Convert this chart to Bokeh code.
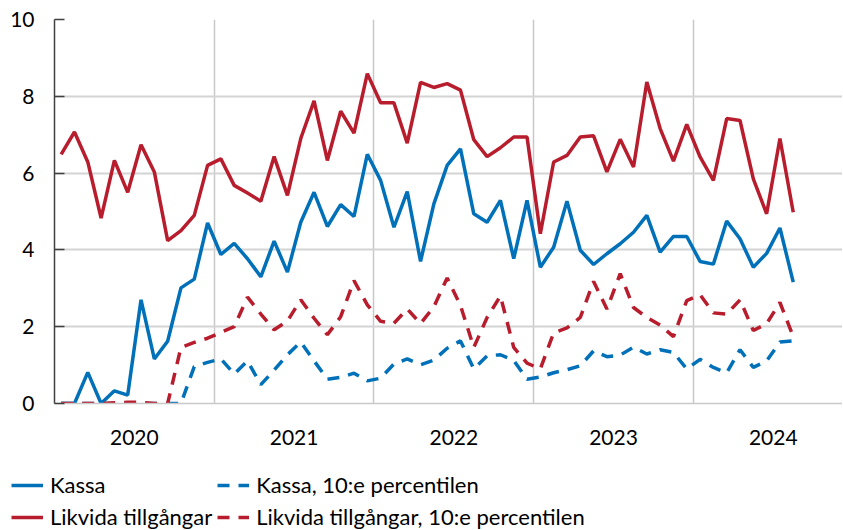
from bokeh.plotting import figure
from bokeh.models import Range1d, FixedTicker, Legend, LegendItem
from bokeh.layouts import column, row
from bokeh.embed import file_html
from bokeh.resources import INLINE
import pandas as pd

# Monthly observations, Jan 2020 - Aug 2024
months = pd.period_range("2020-01", "2024-08", freq="M")

kassa = [0.00, 0.00, 0.81, 0.00, 0.33, 0.22, 2.70, 1.16, 1.62, 3.01, 3.24, 4.70,
         3.88, 4.17, 3.77, 3.30, 4.23, 3.42, 4.72, 5.50, 4.61, 5.18, 4.87, 6.49,
         5.81, 4.59, 5.52, 3.70, 5.20, 6.20, 6.63, 4.94, 4.72, 5.29, 3.77, 5.29,
         3.55, 4.07, 5.27, 3.99, 3.62, 3.90, 4.16, 4.46, 4.90, 3.94, 4.35, 4.35,
         3.70, 3.63, 4.75, 4.29, 3.55, 3.91, 4.57, 3.16]

kassa_p10 = [0.00, 0.00, 0.00, 0.00, 0.00, 0.00, 0.00, 0.00, 0.00, 0.00, 0.96, 1.07,
             1.16, 0.77, 1.11, 0.49, 0.87, 1.27, 1.60, 1.11, 0.63, 0.68, 0.79, 0.59,
             0.66, 1.03, 1.16, 1.01, 1.13, 1.44, 1.63, 0.90, 1.24, 1.27, 1.12, 0.63,
             0.69, 0.80, 0.88, 0.98, 1.37, 1.22, 1.26, 1.47, 1.29, 1.40, 1.33, 0.90,
             1.15, 0.94, 0.80, 1.40, 0.94, 1.11, 1.60, 1.63]

likvida = [6.49, 7.07, 6.29, 4.83, 6.33, 5.50, 6.74, 6.03, 4.24, 4.50, 4.90, 6.20,
           6.37, 5.68, 5.48, 5.27, 6.43, 5.42, 6.90, 7.88, 6.33, 7.61, 7.04, 8.59,
           7.83, 7.83, 6.78, 8.36, 8.23, 8.33, 8.16, 6.87, 6.43, 6.66, 6.94, 6.94,
           4.42, 6.29, 6.46, 6.94, 6.97, 6.03, 6.88, 6.16, 8.37, 7.16, 6.31, 7.27,
           6.42, 5.81, 7.42, 7.37, 5.85, 4.94, 6.90, 4.98]

likvida_p10 = [0.00, 0.00, 0.00, 0.00, 0.02, 0.03, 0.03, 0.00, 0.00, 1.46, 1.59, 1.70,
               1.85, 2.00, 2.77, 2.33, 1.92, 2.15, 2.70, 2.22, 1.79, 2.26, 3.20, 2.57,
               2.14, 2.09, 2.46, 2.08, 2.52, 3.27, 2.55, 1.46, 2.24, 2.80, 1.46, 1.05,
               0.90, 1.84, 1.97, 2.24, 3.18, 2.46, 3.38, 2.50, 2.24, 2.04, 1.74, 2.68,
               2.83, 2.36, 2.33, 2.70, 1.90, 2.08, 2.63, 1.74]

years = ["2020", "2021", "2022", "2023", "2024"]
y_ticks = [0, 2, 4, 6, 8, 10]
series_labels = ["Kassa", "Kassa, 10:e percentilen",
                 "Likvida tillgångar", "Likvida tillgångar, 10:e percentilen"]

# x position: months since Jan 2020, plotted mid-month
x = [(m.year - 2020) * 12 + (m.month - 1) + 0.5 for m in months]

BLUE = "#0071b9"
RED = "#b81d2d"
FONT = "Lato"
DASH = "12 9"
LW = 3.5

p = figure(frame_width=788, frame_height=384, output_backend="svg",
           toolbar_location=None, x_range=Range1d(0, 59.2), y_range=Range1d(0, 10),
           min_border_left=54, min_border_top=19, min_border_right=0, min_border_bottom=60)
p.outline_line_color = None
p.background_fill_color = "white"

p.line(x, kassa, line_color=BLUE, line_width=LW)
p.line(x, kassa_p10, line_color=BLUE, line_width=LW, line_dash=DASH)
p.line(x, likvida, line_color=RED, line_width=LW)
p.line(x, likvida_p10, line_color=RED, line_width=LW, line_dash=DASH)

# y axis
p.yaxis.ticker = FixedTicker(ticks=y_ticks)
p.yaxis.axis_line_color = "#404040"
p.yaxis.axis_line_width = 1.5
p.yaxis.major_tick_in = 10
p.yaxis.major_tick_out = 0
p.yaxis.major_tick_line_color = "#404040"
p.yaxis.major_tick_line_width = 1.5
p.yaxis.minor_tick_line_color = None
p.yaxis.major_label_standoff = 20
p.yaxis.major_label_text_font = FONT
p.yaxis.major_label_text_font_size = "21px"
p.yaxis.major_label_text_color = "black"

# x axis: year labels centred in each year, grid lines at year boundaries
year_centres = [6 + 12 * k for k in range(len(years))]
p.xaxis.ticker = FixedTicker(ticks=year_centres)
p.xaxis.major_label_overrides = {c: y for c, y in zip(year_centres, years)}
p.xaxis.major_tick_line_color = None
p.xaxis.minor_tick_line_color = None
p.xaxis.axis_line_color = "#c8c8c8"
p.xaxis.axis_line_width = 1.5
p.xaxis.major_label_standoff = 20
p.xaxis.major_label_text_font = FONT
p.xaxis.major_label_text_font_size = "21px"
p.xaxis.major_label_text_color = "black"

p.xgrid.ticker = FixedTicker(ticks=[12, 24, 36, 48])
p.xgrid.grid_line_color = "#c8c8c8"
p.xgrid.grid_line_width = 1.5
p.ygrid.ticker = FixedTicker(ticks=[2, 4, 6, 8, 10])
p.ygrid.grid_line_color = "#d4d4d4"
p.ygrid.grid_line_width = 1.8

# Legend strip below the chart (same series, drawn out of view; only the legend shows)
q = figure(width=842, height=67, output_backend="svg", toolbar_location=None,
           x_axis_location=None, y_axis_location=None,
           x_range=Range1d(0, 1), y_range=Range1d(100, 101),
           min_border_left=0, min_border_right=0, min_border_top=0, min_border_bottom=0)
q.grid.visible = False
q.outline_line_color = None
l1 = q.line(x, kassa, line_color=BLUE, line_width=LW)
l2 = q.line(x, kassa_p10, line_color=BLUE, line_width=LW, line_dash=DASH)
l3 = q.line(x, likvida, line_color=RED, line_width=LW)
l4 = q.line(x, likvida_p10, line_color=RED, line_width=LW, line_dash=DASH)

legend = Legend(items=[
    LegendItem(label=series_labels[0], renderers=[l1]),
    LegendItem(label=series_labels[2], renderers=[l3]),
    LegendItem(label=series_labels[1], renderers=[l2]),
    LegendItem(label=series_labels[3], renderers=[l4]),
], orientation="vertical", nrows=2, location=(11, 0),
    border_line_color=None, background_fill_alpha=0,
    label_text_font=FONT, label_text_font_size="22px", label_text_color="black",
    glyph_width=32, glyph_height=24, label_height=24, label_standoff=7,
    spacing=5, padding=0, margin=0)
q.add_layout(legend, "center")

layout = column(p, row(q), spacing=0)
open("out.html", "w").write(file_html(layout, INLINE))
